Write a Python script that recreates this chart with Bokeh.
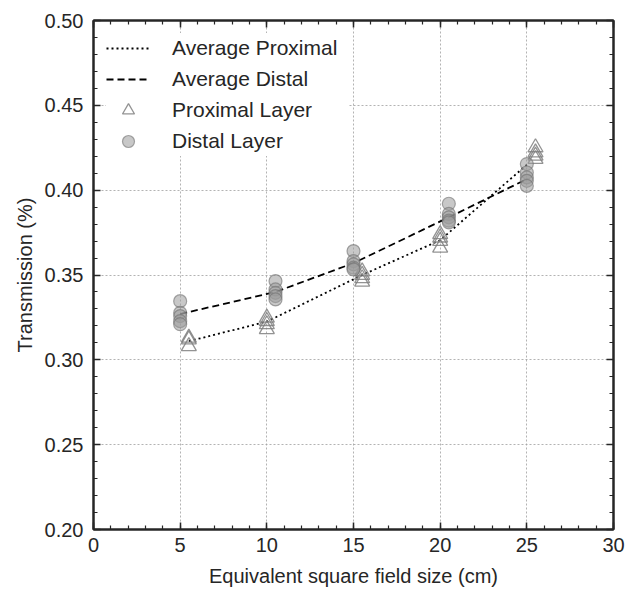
from bokeh.plotting import figure
from bokeh.models import (LinearAxis, Range1d, SingleIntervalTicker, Legend, LegendItem,
                          PrintfTickFormatter)
from bokeh.embed import file_html
from bokeh.resources import INLINE

# ---- data ----
prox_x = [5.5]*3 + [10]*4 + [15.5]*4 + [20]*4 + [25.5]*4
prox_y = [0.313, 0.312, 0.308,
          0.3248, 0.3228, 0.3209, 0.318,
          0.352, 0.350, 0.348, 0.346,
          0.374, 0.372, 0.370, 0.366,
          0.4252, 0.4222, 0.4203, 0.4183]
dist_x = [5]*5 + [10.5]*5 + [15]*5 + [20.5]*5 + [25]*5
dist_y = [0.3346, 0.3277, 0.3258, 0.3228, 0.321,
          0.3464, 0.3415, 0.3395, 0.3376, 0.3356,
          0.3641, 0.3582, 0.3563, 0.3543, 0.3533,
          0.392, 0.386, 0.384, 0.382, 0.381,
          0.4154, 0.4104, 0.4075, 0.4055, 0.4025]
avg_prox_x = [5.5, 10, 15.5, 20, 25]
avg_prox_y = [0.311, 0.3225, 0.350, 0.3705, 0.415]
avg_dist_x = [5, 10.5, 15, 20.5, 25]
avg_dist_y = [0.327, 0.340, 0.357, 0.384, 0.4065]

FONT = "Liberation Sans"
AX = "#262626"

p = figure(width=625, height=589, output_backend="svg", toolbar_location=None,
           x_range=Range1d(0, 30), y_range=Range1d(0.20, 0.50),
           min_border_left=93, min_border_right=12, min_border_top=20, min_border_bottom=55,
           x_axis_label="Equivalent square field size (cm)", y_axis_label="Transmission (%)")
p.outline_line_color = AX
p.outline_line_width = 2
p.background_fill_color = "white"
p.border_fill_color = "white"

xt = SingleIntervalTicker(interval=5, num_minor_ticks=5)
yt = SingleIntervalTicker(interval=0.05, num_minor_ticks=5)
p.xaxis.ticker = xt
p.yaxis.ticker = yt
p.yaxis.formatter = PrintfTickFormatter(format="%.2f")

for ax in [p.xaxis[0], p.yaxis[0]]:
    ax.axis_line_color = AX
    ax.axis_line_width = 2
    ax.major_tick_line_color = AX
    ax.minor_tick_line_color = AX
    ax.major_tick_line_width = 1.5
    ax.minor_tick_line_width = 1.2
    ax.major_tick_in = 7
    ax.major_tick_out = 0
    ax.minor_tick_in = 4
    ax.minor_tick_out = 0
    ax.major_label_text_font = FONT
    ax.major_label_text_font_size = "20px"
    ax.major_label_text_color = AX
    ax.axis_label_text_font = FONT
    ax.axis_label_text_font_size = "20px"
    ax.axis_label_text_font_style = "normal"
    ax.axis_label_text_color = AX
    ax.major_label_standoff = 10
p.xaxis.major_label_standoff = 8
p.xaxis.axis_label_standoff = 10
p.yaxis.axis_label_standoff = 6

for loc, tk in [("above", xt), ("right", yt)]:
    a = LinearAxis(ticker=tk, major_label_text_font_size="0px", major_label_standoff=0,
                   axis_line_color=AX, axis_line_width=2,
                   major_tick_line_color=AX, minor_tick_line_color=AX,
                   major_tick_line_width=1.5, minor_tick_line_width=1.2,
                   major_tick_in=7, major_tick_out=0, minor_tick_in=4, minor_tick_out=0)
    p.add_layout(a, loc)

p.grid.grid_line_color = "#a0a0a0"
p.grid.grid_line_dash = "2 2"
p.grid.grid_line_width = 0.8

r_ap = p.line(avg_prox_x, avg_prox_y, line_color="black", line_width=1.8, line_dash="2 3")
r_ad = p.line(avg_dist_x, avg_dist_y, line_color="black", line_width=1.8, line_dash="7 4")
r_p = p.scatter(prox_x, prox_y, marker="triangle", size=15, fill_color=None,
                line_color="#808080", line_width=1.3, line_alpha=0.85)
r_d = p.scatter(dist_x, dist_y, marker="circle", size=13, fill_color="#9a9a9a",
                fill_alpha=0.55, line_color="#707070", line_alpha=0.6, line_width=1.2)

legend = Legend(items=[
    LegendItem(label="Average Proximal", renderers=[r_ap]),
    LegendItem(label="Average Distal", renderers=[r_ad]),
    LegendItem(label="Proximal Layer", renderers=[r_p]),
    LegendItem(label="Distal Layer", renderers=[r_d]),
], location="top_left")
legend.margin = 13
legend.padding = 0
legend.spacing = 1
legend.glyph_width = 44
legend.glyph_height = 30
legend.label_standoff = 22
legend.label_height = 30
legend.label_width = 176
legend.label_text_font = FONT
legend.label_text_font_size = "21px"
legend.label_text_color = AX
legend.border_line_color = None
legend.background_fill_color = "white"
legend.background_fill_alpha = 1.0
p.add_layout(legend)

open("out.html", "w").write(file_html(p, INLINE))
